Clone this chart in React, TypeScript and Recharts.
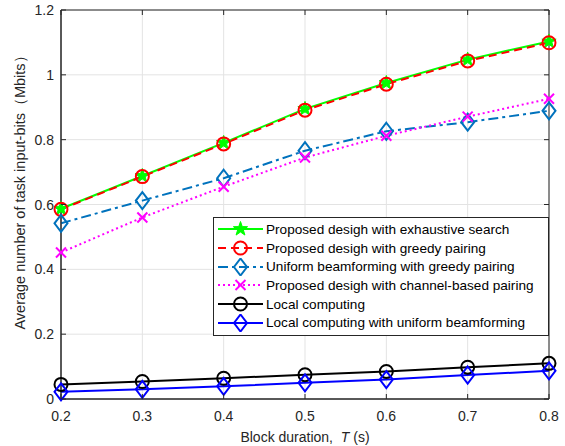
import React from "react";
import {
  CartesianGrid, Line, LineChart,
  ReferenceArea, XAxis, YAxis,
} from "recharts";

const blockDurations = [0.2, 0.3, 0.4, 0.5, 0.6, 0.7, 0.8];
const exhaustiveSearch = [0.587, 0.688, 0.79, 0.895, 0.975, 1.047, 1.103];
const greedyPairing = [0.585, 0.686, 0.787, 0.891, 0.971, 1.043, 1.099];
const uniformGreedy = [0.542, 0.612, 0.681, 0.766, 0.826, 0.854, 0.889];
const channelBased = [0.452, 0.56, 0.655, 0.745, 0.812, 0.871, 0.926];
const localComputing = [0.045, 0.054, 0.064, 0.075, 0.085, 0.098, 0.11];
const localUniform = [0.022, 0.03, 0.039, 0.05, 0.06, 0.074, 0.087];

const xTicks = [0.2, 0.3, 0.4, 0.5, 0.6, 0.7, 0.8];
const yTicks = [0, 0.2, 0.4, 0.6, 0.8, 1, 1.2];

const W = 565, H = 446;
const PL = 61, PR = 549, PT = 10, PB = 399;
const FONT = "'Liberation Sans', Arial, sans-serif";
const INK = "#262626";

type Shape = "star" | "circle" | "diamond" | "cross";

function Marker({ shape, cx, cy, color }: { shape: Shape; cx: number; cy: number; color: string }) {
  if (shape === "circle") {
    return <circle cx={cx} cy={cy} r={6.5} fill="none" stroke={color} strokeWidth={2} />;
  }
  if (shape === "diamond") {
    const pts = `${cx},${cy - 8.5} ${cx + 6.5},${cy} ${cx},${cy + 8.5} ${cx - 6.5},${cy}`;
    return <polygon points={pts} fill="none" stroke={color} strokeWidth={2} />;
  }
  if (shape === "cross") {
    const s = 5;
    return (
      <g stroke={color} strokeWidth={2}>
        <line x1={cx - s} y1={cy - s} x2={cx + s} y2={cy + s} />
        <line x1={cx - s} y1={cy + s} x2={cx + s} y2={cy - s} />
      </g>
    );
  }
  const pts: string[] = [];
  for (let i = 0; i < 10; i++) {
    const r = i % 2 === 0 ? 7.5 : 3;
    const a = -Math.PI / 2 + (i * Math.PI) / 5;
    pts.push(`${cx + r * Math.cos(a)},${cy + r * Math.sin(a)}`);
  }
  return <polygon points={pts.join(" ")} fill={color} stroke={color} strokeWidth={1} />;
}

const series = [
  { key: "exhaustive", name: "Proposed desigh with exhaustive search", values: exhaustiveSearch, color: "#00ff00", dash: undefined, shape: "star" as Shape },
  { key: "greedy", name: "Proposed desigh with greedy pairing", values: greedyPairing, color: "#ff0000", dash: "8 5", shape: "circle" as Shape },
  { key: "uniform", name: "Uniform beamforming with greedy pairing", values: uniformGreedy, color: "#0072bd", dash: "10 4 3 4", shape: "diamond" as Shape },
  { key: "channel", name: "Proposed desigh with channel-based pairing", values: channelBased, color: "#ff00ff", dash: "2 3", shape: "cross" as Shape },
  { key: "local", name: "Local computing", values: localComputing, color: "#000000", dash: undefined, shape: "circle" as Shape },
  { key: "localUniform", name: "Local computing with uniform beamforming", values: localUniform, color: "#0000ff", dash: undefined, shape: "diamond" as Shape },
];

const data = blockDurations.map((t, i) => {
  const row: Record<string, number> = { t };
  series.forEach((s) => { row[s.key] = s.values[i]; });
  return row;
});

function YTick({ y, payload }: any) {
  const v = payload.value as number;
  return (
    <g>
      <line x1={PL} x2={PL + 5} y1={y} y2={y} stroke={INK} />
      <line x1={PR - 5} x2={PR} y1={y} y2={y} stroke={INK} />
      <text x={PL - 7} y={y + 5} textAnchor="end" fontSize={14} fill={INK} fontFamily={FONT}>
        {String(v)}
      </text>
    </g>
  );
}

function XTick({ x, payload }: any) {
  const v = payload.value as number;
  return (
    <g>
      <line x1={x} x2={x} y1={PB} y2={PB - 5} stroke={INK} />
      <line x1={x} x2={x} y1={PT} y2={PT + 5} stroke={INK} />
      <text x={x} y={PB + 22} textAnchor="middle" fontSize={14} fill={INK} fontFamily={FONT}>
        {v.toFixed(1)}
      </text>
    </g>
  );
}

function LegendBox() {
  return (
    <div
      style={{
        position: "absolute", left: 213, top: 217, width: 334,
        border: `1px solid ${INK}`, background: "#fff", padding: "2px 0 3px 0",
        fontFamily: FONT, fontSize: 13.6, color: "#000",
      }}
    >
      {series.map((s) => (
        <div key={s.key} style={{ display: "flex", alignItems: "center", height: 18.7 }}>
          <svg width={52} height={18} style={{ flex: "none" }}>
            <line x1={4} x2={49} y1={9} y2={9} stroke={s.color} strokeWidth={2} strokeDasharray={s.dash} />
            <Marker shape={s.shape} cx={26.5} cy={9} color={s.color} />
          </svg>
          <span style={{ whiteSpace: "nowrap" }}>{s.name}</span>
        </div>
      ))}
    </div>
  );
}

export default function App() {
  return (
    <div style={{ position: "absolute", left: 0, top: 0, width: W, height: H, background: "#fff" }}>
      <LineChart width={W} height={H} data={data} margin={{ top: PT, right: W - PR, bottom: 0, left: 0 }}>
        <CartesianGrid stroke="#e3e3e3" strokeWidth={1} verticalValues={xTicks} horizontalValues={yTicks} />
        <XAxis
          dataKey="t" type="number" domain={[0.2, 0.8]} ticks={xTicks}
          height={H - PB} axisLine={{ stroke: INK }} tickLine={false} tick={<XTick />}
          label={{
            content: () => (
              <text x={(PL + PR) / 2} y={442} textAnchor="middle" fontSize={14} fill={INK} fontFamily={FONT}>
                Block duration,{"\u00a0\u00a0"}
                <tspan fontStyle="italic">T</tspan> (s)
              </text>
            ),
          }}
        />
        <YAxis
          type="number" domain={[0, 1.2]} ticks={yTicks} width={PL}
          axisLine={{ stroke: INK }} tickLine={false} tick={<YTick />}
          label={{
            content: () => (
              <text
                x={25} y={189} transform="rotate(-90 25 189)" textAnchor="middle"
                fontSize={14.5} fill={INK} fontFamily={FONT}
              >
                Average number of task input-bits（Mbits）
              </text>
            ),
          }}
        />
        <ReferenceArea x1={0.2} x2={0.8} y1={0} y2={1.2} fill="none" stroke={INK} strokeWidth={1} />
        {series.map((s) => (
          <Line
            key={s.key}
            type="linear"
            dataKey={s.key}
            name={s.name}
            stroke={s.color}
            strokeWidth={2}
            strokeDasharray={s.dash}
            isAnimationActive={false}
            dot={(p: any) => <Marker key={`${s.key}-${p.index}`} shape={s.shape} cx={p.cx} cy={p.cy} color={s.color} />}
            activeDot={false}
          />
        ))}
      </LineChart>
      <LegendBox />
    </div>
  );
}
